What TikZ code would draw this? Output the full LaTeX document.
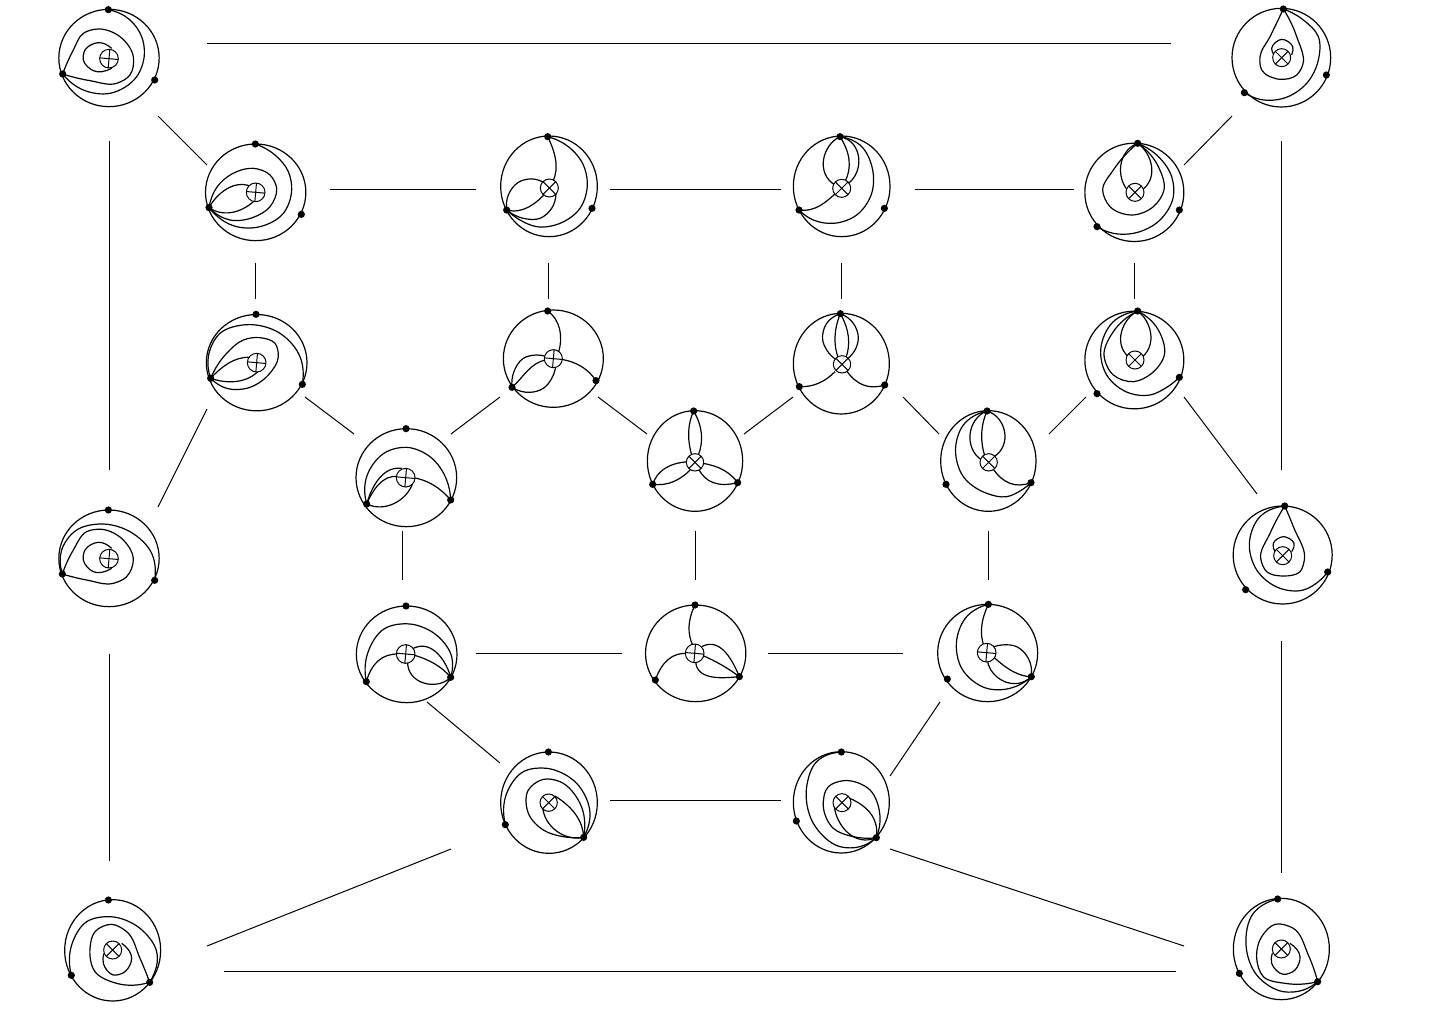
\documentclass[tikz,border=0pt]{standalone}
\usetikzlibrary{shapes.geometric}
\tikzset{
  ringn/.style={ellipse,draw=black,line width=.6pt,inner sep=0pt,outer sep=0pt},
  dotn/.style={circle,fill=black,inner sep=0pt,outer sep=0pt,minimum size=3.6pt},
  xring/.style={circle,draw=black,fill=white,line width=.5pt,inner sep=0pt,outer sep=0pt},
  xbar/.style={line width=.5pt},
  cvn/.style={line width=.6pt,line join=round},
  linkn/.style={line width=.5pt,draw=black},
  zoomed/.style={x=.166667pt,y=-.166667pt}
}
\newcommand\Ring[5]{\node[ringn,minimum width=#4/6*1pt,minimum height=#5/6*1pt] (#1) at (#2,#3) {};}
\newcommand\Dots[7]{\node[dotn] (#1a) at (#2,#3) {};\node[dotn] (#1b) at (#4,#5) {};\node[dotn] (#1c) at (#6,#7) {};}
\newcommand\Xc[5]{\node[xring,minimum size=#4/3*1pt] (#1x) at (#2,#3) {};
  \pgfmathsetmacro\aA{#5}\pgfmathsetmacro\aB{#5+180}\pgfmathsetmacro\aC{#5+90}\pgfmathsetmacro\aD{#5+270}
  \draw[xbar] (#1x.\aA) -- (#1x.\aB);\draw[xbar] (#1x.\aC) -- (#1x.\aD);}
% many points: a spline through them, tangents scaled by chord length
\newcount\cvN \newcount\cvI
\def\cvx#1{\csname cvx\number\numexpr#1\relax\endcsname}
\def\cvy#1{\csname cvy\number\numexpr#1\relax\endcsname}
\def\cvd#1{\csname cvd\number\numexpr#1\relax\endcsname}
\def\ctx#1{\csname ctx\number\numexpr#1\relax\endcsname}
\def\cty#1{\csname cty\number\numexpr#1\relax\endcsname}
\def\cvLoad(#1,#2){\advance\cvN by 1
  \expandafter\def\csname cvx\number\cvN\endcsname{#1}%
  \expandafter\def\csname cvy\number\cvN\endcsname{#2}%
  \futurelet\cvNext\cvTest}
\def\cvTest{\ifx\cvNext(\expandafter\cvLoad\else\expandafter\cvGobble\fi}
\def\cvGobble\relax{}
\def\cvBuild{%
  \cvI=1
  \loop\ifnum\cvI<\cvN
    \expandafter\pgfmathsetmacro\csname cvd\number\cvI\endcsname{veclen(\cvx{\cvI+1}-\cvx{\cvI},\cvy{\cvI+1}-\cvy{\cvI})}%
    \advance\cvI by 1
  \repeat
  \cvI=2
  \loop\ifnum\cvI<\cvN
    \pgfmathsetmacro\cvA{\cvd{\cvI-1}}\pgfmathsetmacro\cvB{\cvd{\cvI}}%
    \expandafter\pgfmathsetmacro\csname ctx\number\cvI\endcsname{(\cvB/(\cvA+\cvB))*(\cvx{\cvI}-\cvx{\cvI-1})/\cvA+(\cvA/(\cvA+\cvB))*(\cvx{\cvI+1}-\cvx{\cvI})/\cvB}%
    \expandafter\pgfmathsetmacro\csname cty\number\cvI\endcsname{(\cvB/(\cvA+\cvB))*(\cvy{\cvI}-\cvy{\cvI-1})/\cvA+(\cvA/(\cvA+\cvB))*(\cvy{\cvI+1}-\cvy{\cvI})/\cvB}%
    \advance\cvI by 1
  \repeat
  \expandafter\pgfmathsetmacro\csname ctx1\endcsname{2*(\cvx{2}-\cvx{1})/\cvd{1}-\ctx{2}}%
  \expandafter\pgfmathsetmacro\csname cty1\endcsname{2*(\cvy{2}-\cvy{1})/\cvd{1}-\cty{2}}%
  \expandafter\pgfmathsetmacro\csname ctx\number\cvN\endcsname{2*(\cvx{\cvN}-\cvx{\cvN-1})/\cvd{\cvN-1}-\ctx{\cvN-1}}%
  \expandafter\pgfmathsetmacro\csname cty\number\cvN\endcsname{2*(\cvy{\cvN}-\cvy{\cvN-1})/\cvd{\cvN-1}-\cty{\cvN-1}}%
  \edef\cvPath{(\cvx{1},\cvy{1})}%
  \cvI=1
  \loop\ifnum\cvI<\cvN
    \pgfmathsetmacro\cvAx{\cvx{\cvI}+\ctx{\cvI}*\cvd{\cvI}/3}%
    \pgfmathsetmacro\cvAy{\cvy{\cvI}+\cty{\cvI}*\cvd{\cvI}/3}%
    \pgfmathsetmacro\cvBx{\cvx{\cvI+1}-\ctx{\cvI+1}*\cvd{\cvI}/3}%
    \pgfmathsetmacro\cvBy{\cvy{\cvI+1}-\cty{\cvI+1}*\cvd{\cvI}/3}%
    \edef\cvPath{\cvPath .. controls (\cvAx,\cvAy) and (\cvBx,\cvBy) .. (\cvx{\cvI+1},\cvy{\cvI+1})}%
    \advance\cvI by 1
  \repeat
  \edef\cvDo{\noexpand\draw[cvn] \cvPath;}\cvDo}
\newcommand\Cv[1]{\cvN=0 \cvLoad#1\relax\cvBuild}
% three points: a parabola through them
\def\Qv(#1,#2)(#3,#4)(#5,#6){%
  \pgfmathsetmacro\qx{2*(#3)-((#1)+(#5))/2}\pgfmathsetmacro\qy{2*(#4)-((#2)+(#6))/2}%
  \pgfmathsetmacro\cax{(#1)/3+2*\qx/3}\pgfmathsetmacro\cay{(#2)/3+2*\qy/3}%
  \pgfmathsetmacro\cbx{(#5)/3+2*\qx/3}\pgfmathsetmacro\cby{(#6)/3+2*\qy/3}%
  \draw[cvn] (#1,#2) .. controls (\cax,\cay) and (\cbx,\cby) .. (#5,#6);}
% four points: one cubic through them
\def\Kv(#1,#2)(#3,#4)(#5,#6)(#7,#8){%
  \pgfmathsetmacro\da{veclen((#3)-(#1),(#4)-(#2))}%
  \pgfmathsetmacro\db{veclen((#5)-(#3),(#6)-(#4))}%
  \pgfmathsetmacro\dc{veclen((#7)-(#5),(#8)-(#6))}%
  \pgfmathsetmacro\tA{\da/(\da+\db+\dc)}\pgfmathsetmacro\tB{(\da+\db)/(\da+\db+\dc)}%
  \pgfmathsetmacro\mA{1-\tA}\pgfmathsetmacro\mB{1-\tB}%
  \pgfmathsetmacro\Aaa{3*\tA*\mA*\mA}\pgfmathsetmacro\Aab{3*\tA*\tA*\mA}%
  \pgfmathsetmacro\Aba{3*\tB*\mB*\mB}\pgfmathsetmacro\Abb{3*\tB*\tB*\mB}%
  \pgfmathsetmacro\kdet{\Aaa*\Abb-\Aab*\Aba}%
  \pgfmathsetmacro\rax{(#3)-(#1)*\mA*\mA*\mA-(#7)*\tA*\tA*\tA}%
  \pgfmathsetmacro\ray{(#4)-(#2)*\mA*\mA*\mA-(#8)*\tA*\tA*\tA}%
  \pgfmathsetmacro\rbx{(#5)-(#1)*\mB*\mB*\mB-(#7)*\tB*\tB*\tB}%
  \pgfmathsetmacro\rby{(#6)-(#2)*\mB*\mB*\mB-(#8)*\tB*\tB*\tB}%
  \pgfmathsetmacro\cax{(\Abb*\rax-\Aab*\rbx)/\kdet}\pgfmathsetmacro\cay{(\Abb*\ray-\Aab*\rby)/\kdet}%
  \pgfmathsetmacro\cbx{(\Aaa*\rbx-\Aba*\rax)/\kdet}\pgfmathsetmacro\cby{(\Aaa*\rby-\Aba*\ray)/\kdet}%
  \draw[cvn] (#1,#2) .. controls (\cax,\cay) and (\cbx,\cby) .. (#7,#8);}
\newcommand\Lk[6]{\coordinate (#1-#4) at (#2,#3);\coordinate (#4-#1) at (#5,#6);\draw[linkn] (#1-#4) -- (#4-#1);}
\begin{document}
\begin{tikzpicture}[x=.5pt,y=-.5pt]
\fill[white] (0,0) rectangle (1434,1032);
\path[use as bounding box] (0,0) rectangle (1434,1032);

% top-left
\begin{scope}[shift={(40,0)},zoomed]
\Ring{tl}{207}{174}{301}{292}
\Cv{(205,29)(270,60)(305,110)(313,165)(290,230)(210,280)(130,270)(68,222)}
\Cv{(68,222)(100,150)(130,100)(175,87)(240,110)(280,170)(270,225)(230,250)(150,242)(68,222)}
\Cv{(215,145)(175,128)(135,150)(130,180)(160,212)(215,205)}
\Xc{tl}{207}{176}{28}{-5}
\Dots{tl}{205}{29}{68}{222}{344}{240}
\end{scope}
% row 1 col 1
\begin{scope}[shift={(40,0)},zoomed]
\Ring{pa}{647}{577}{301}{290}
\Cv{(646,432)(705,465)(745,515)(755,570)(730,640)(660,680)(590,680)(507,623)}
\Cv{(507,623)(540,550)(590,515)(640,505)(690,525)(710,565)(690,620)(640,652)(570,660)(507,623)}
\Kv(507,623)(555,570)(590,555)(630,558)
\Kv(507,623)(570,638)(620,620)(650,595)
\Xc{pa}{647}{577}{28}{-5}
\Dots{pa}{646}{432}{507}{623}{784}{643}
\end{scope}
% row 1 col 2, 3
\begin{scope}[shift={(480,120)},zoomed]
\Ring{pb}{207}{199}{290}{302}
\Cv{(203,50)(265,80)(310,135)(322,190)(300,265)(240,310)(170,320)(120,300)(80,270)}
\Kv(203,50)(225,110)(228,150)(218,185)
\Kv(80,270)(130,268)(170,245)(200,215)
\Cv{(80,270)(85,225)(115,187)(160,177)(195,190)}
\Cv{(80,270)(130,295)(180,295)(215,265)(228,220)}
\Xc{pb}{208}{204}{27}{45}
\Dots{pb}{203}{50}{80}{270}{336}{265}
\Ring{pc}{1085}{199}{290}{302}
\Cv{(1080,50)(1140,75)(1178,150)(1175,220)(1130,285)(1060,310)(1000,300)(957,270)}
\Kv(1080,50)(1040,90)(1030,140)(1065,195)
\Qv(1080,50)(1107,120)(1095,185)
\Kv(1080,50)(1130,90)(1135,140)(1105,190)
\Kv(957,270)(1010,262)(1050,235)(1072,215)
\Xc{pc}{1085}{205}{27}{45}
\Dots{pc}{1080}{50}{957}{270}{1213}{265}
\end{scope}
% top-right and row 1 col 4
\begin{scope}[shift={(1070,0)},zoomed]
\Ring{tr}{634}{173}{296}{296}
\Cv{(640,27)(700,60)(745,110)(745,180)(710,250)(640,295)(570,298)(523,278)}
\Cv{(640,27)(600,110)(570,170)(575,210)(630,238)(680,225)(698,195)(680,110)(640,27)}
\Cv{(612,165)(605,145)(635,118)(668,140)(665,165)}
\Xc{tr}{635}{173}{27}{45}
\Dots{tr}{640}{27}{523}{278}{769}{225}
\Ring{pd}{193}{577}{297}{295}
\Cv{(203,430)(260,465)(305,530)(310,590)(270,660)(190,700)(130,700)(81,680)}
\Cv{(203,430)(130,510)(98,570)(120,620)(185,645)(250,620)(282,570)(265,500)(203,430)}
\Kv(203,430)(160,470)(152,520)(172,570)
\Kv(203,430)(240,480)(245,520)(220,567)
\Xc{pd}{195}{577}{27}{45}
\Dots{pd}{203}{430}{81}{680}{328}{630}
\end{scope}
% row 2 col 1, 2, row 3 col 1
\begin{scope}[shift={(190,300)},zoomed]
\Ring{qa}{200}{188}{302}{289}
\Cv{(62,235)(55,170)(90,100)(170,74)(270,100)(330,170)(337,253)}
\Cv{(62,235)(110,160)(160,120)(210,113)(255,130)(265,170)(235,225)(170,265)(110,265)(62,235)}
\Kv(62,235)(100,200)(140,178)(180,172)
\Kv(62,235)(110,245)(160,240)(210,208)
\Xc{qa}{200}{188}{28}{-5}
\Dots{qa}{198}{43}{62}{235}{337}{253}
\Ring{qb}{1090}{176}{300}{292}
\Kv(1073,33)(1105,75)(1112,115)(1106,155)
\Qv(1218,242)(1175,200)(1115,178)
\Cv{(966,262)(970,220)(1000,175)(1040,165)(1070,170)}
\Kv(966,262)(1010,215)(1040,190)(1070,180)
\Cv{(966,262)(1020,277)(1060,265)(1090,225)(1098,190)}
\Xc{qb}{1090}{176}{27}{-5}
\Dots{qb}{1073}{33}{966}{262}{1218}{242}
\Ring{ra}{649}{533}{302}{294}
\Cv{(530,612)(530,530)(590,455)(650,442)(720,470)(770,540)(782,600)}
\Kv(530,612)(560,545)(595,512)(635,505)
\Kv(530,612)(560,560)(590,535)(625,530)
\Qv(782,600)(730,555)(670,533)
\Kv(530,612)(580,620)(630,600)(668,550)
\Xc{ra}{647}{533}{28}{-5}
\Dots{ra}{648}{386}{530}{612}{782}{600}
\end{scope}
% row 3 col 2, row 2 col 3, row 3 col 3
\begin{scope}[shift={(630,300)},zoomed]
\Ring{rb}{195}{483}{286}{302}
\Qv(191,333)(176,395)(185,465)
\Qv(191,333)(214,400)(205,465)
\Qv(68,553)(105,505)(175,485)
\Qv(68,553)(130,545)(185,505)
\Qv(323,548)(280,510)(218,490)
\Qv(323,548)(250,548)(205,505)
\Xc{rb}{195}{487}{26}{45}
\Dots{rb}{191}{333}{68}{553}{323}{548}
\Ring{qc}{634}{191}{288}{302}
\Cv{(631,41)(590,70)(578,120)(590,150)(620,180)}
\Qv(631,41)(615,110)(625,175)
\Qv(631,41)(655,110)(647,175)
\Cv{(631,41)(670,70)(685,115)(675,150)(650,178)}
\Qv(508,260)(565,250)(615,215)
\Qv(764,255)(700,255)(648,210)
\Xc{qc}{636}{193}{26}{45}
\Dots{qc}{631}{41}{508}{260}{764}{255}
\Ring{rc}{1075}{483}{286}{302}
\Cv{(1071,333)(1000,375)(977,440)(1000,530)(1070,580)(1130,590)(1175,570)(1203,548)}
\Kv(1071,333)(1030,370)(1020,420)(1055,480)
\Qv(1071,333)(1055,400)(1065,470)
\Kv(1071,333)(1115,370)(1125,410)(1092,470)
\Qv(1203,548)(1140,550)(1088,505)
\Xc{rc}{1076}{487}{26}{45}
\Dots{rc}{1071}{333}{948}{553}{1203}{548}
\end{scope}
% row 2 col 4, mid right
\begin{scope}[shift={(1070,300)},zoomed]
\Ring{qd}{193}{180}{297}{293}
\Cv{(203,33)(130,65)(92,150)(110,225)(180,280)(240,285)(290,262)(328,232)}
\Cv{(203,33)(130,95)(102,165)(130,225)(190,245)(245,220)(283,165)(265,90)(203,33)}
\Kv(203,33)(160,80)(152,125)(175,170)
\Kv(203,33)(240,90)(242,125)(218,170)
\Xc{qd}{195}{180}{27}{45}
\Dots{qd}{203}{33}{81}{281}{328}{232}
\Ring{mr}{638}{765}{297}{294}
\Cv{(644,618)(570,650)(538,730)(560,810)(630,865)(700,870)(745,845)(773,816)}
\Cv{(644,618)(600,700)(572,775)(590,815)(640,828)(690,815)(703,780)(670,680)(644,618)}
\Cv{(615,755)(610,730)(640,710)(672,730)(665,755)}
\Xc{mr}{638}{767}{27}{45}
\Dots{mr}{644}{618}{527}{869}{773}{816}
\end{scope}
% mid left
\begin{scope}[shift={(40,490)},zoomed]
\Ring{ml}{207}{205}{301}{290}
\Cv{(67,252)(65,180)(110,120)(180,102)(270,125)(335,190)(344,271)}
\Cv{(67,252)(100,180)(140,125)(185,118)(250,150)(280,205)(260,260)(220,280)(140,270)(67,252)}
\Cv{(215,175)(175,157)(135,180)(130,210)(160,245)(215,235)}
\Xc{ml}{207}{206}{28}{-5}
\Dots{ml}{205}{60}{67}{252}{344}{271}
\end{scope}
% row 4 col 1, 2
\begin{scope}[shift={(345,590)},zoomed]
\Ring{sa}{185}{193}{302}{290}
\Cv{(64,275)(65,200)(120,115)(195,102)(280,140)(320,200)(317,262)}
\Qv(64,275)(100,212)(160,192)
\Qv(317,262)(270,222)(205,195)
\Kv(317,262)(290,205)(250,172)(205,175)
\Kv(317,262)(260,283)(210,265)(188,215)
\Xc{sa}{182}{192}{28}{-5}
\Dots{sa}{183}{48}{64}{275}{317}{262}
\Ring{sb}{1052}{190}{301}{290}
\Qv(1050,45)(1032,110)(1045,170)
\Qv(931,270)(970,208)(1028,190)
\Kv(1183,260)(1155,205)(1110,165)(1070,170)
\Qv(1183,260)(1130,225)(1070,195)
\Kv(1183,260)(1110,262)(1065,245)(1052,210)
\Xc{sb}{1049}{190}{28}{-5}
\Dots{sb}{1050}{45}{931}{270}{1183}{260}
\end{scope}
% row 4 col 3, row 5 col 2
\begin{scope}[shift={(780,590)},zoomed]
\Ring{sc}{623}{189}{300}{292}
\Cv{(625,43)(560,80)(530,150)(545,235)(620,295)(690,295)(754,260)}
\Qv(625,43)(605,110)(612,168)
\Cv{(754,260)(745,205)(710,170)(665,165)(630,175)}
\Qv(754,260)(700,245)(640,200)
\Kv(754,260)(680,277)(640,250)(622,210)
\Xc{sc}{620}{188}{28}{-5}
\Dots{sc}{625}{43}{502}{267}{754}{260}
\Ring{tb}{184}{637}{288}{304}
\Cv{(184,486)(110,515)(80,590)(100,700)(180,770)(240,770)(289,743)}
\Cv{(289,743)(300,680)(270,600)(190,572)(145,590)(130,650)(160,715)(220,740)(289,743)}
\Qv(289,743)(275,675)(210,625)
\Kv(289,743)(220,740)(175,690)(163,650)
\Xc{tb}{186}{638}{27}{45}
\Dots{tb}{184}{486}{49}{693}{289}{743}
\end{scope}
% row 5 col 1
\begin{scope}[shift={(490,740)},zoomed]
\Ring{ta}{177}{188}{290}{304}
\Cv{(46,254)(50,160)(100,95)(170,85)(260,130)(300,220)(281,292)}
\Cv{(281,292)(270,190)(210,125)(160,118)(115,150)(115,220)(160,270)(220,290)(281,292)}
\Qv(281,292)(258,225)(195,168)
\Kv(281,292)(210,280)(170,240)(158,200)
\Xc{ta}{176}{188}{26}{45}
\Dots{ta}{175}{36}{46}{254}{281}{292}
\end{scope}
% bottom-left
\begin{scope}[shift={(50,885)},zoomed]
\Ring{bl}{188}{196}{288}{304}
\Cv{(64,271)(65,180)(110,110)(180,95)(270,130)(320,200)(299,292)}
\Cv{(299,292)(270,220)(230,140)(185,118)(135,140)(120,190)(135,260)(200,295)(299,292)}
\Cv{(215,175)(245,220)(225,260)(190,270)(160,235)(162,205)}
\Xc{bl}{188}{195}{27}{45}
\Dots{bl}{175}{45}{64}{271}{299}{292}
\end{scope}
% bottom-right
\begin{scope}[shift={(1220,885)},zoomed]
\Ring{br}{184}{192}{288}{304}
\Cv{(173,42)(100,85)(78,180)(110,270)(190,320)(250,315)(293,290)}
\Cv{(293,290)(265,210)(220,130)(165,118)(125,155)(110,220)(130,275)(195,295)(293,290)}
\Cv{(210,175)(240,215)(225,255)(190,268)(155,235)(157,205)}
\Xc{br}{184}{192}{27}{45}
\Dots{br}{173}{42}{58}{265}{293}{290}
\end{scope}

% connectors
\Lk{tl}{207}{43.4}{tr}{1171}{43.4}
\Lk{tl}{158}{116}{pa}{207}{165}
\Lk{tl}{109}{141}{ml}{109}{470}
\Lk{pa}{330}{189.4}{pb}{476}{189.4}
\Lk{pb}{610}{189.4}{pc}{781}{189.4}
\Lk{pc}{915}{189.4}{pd}{1074}{189.4}
\Lk{tr}{1232}{116}{pd}{1184}{165}
\Lk{tr}{1281}{141}{mr}{1281}{470}
\Lk{pa}{255}{263}{qa}{255}{299}
\Lk{pb}{548}{263}{qb}{548}{299}
\Lk{pc}{841}{263}{qc}{841}{299}
\Lk{pd}{1134}{263}{qd}{1134}{299}
\Lk{qa}{207}{409}{ml}{158}{507}
\Lk{qa}{305}{397}{ra}{354}{434}
\Lk{qb}{500}{397}{ra}{451}{434}
\Lk{qb}{598}{397}{rb}{647}{434}
\Lk{qc}{793}{397}{rb}{744}{434}
\Lk{qc}{903}{397}{rc}{939}{434}
\Lk{qd}{1086}{397}{rc}{1049}{434}
\Lk{qd}{1184}{397}{mr}{1257}{494}
\Lk{ml}{109}{654}{bl}{109}{861}
\Lk{ra}{402}{531}{sa}{402}{580}
\Lk{rb}{695}{531}{sb}{695}{580}
\Lk{rc}{988}{531}{sc}{988}{580}
\Lk{mr}{1281}{641}{br}{1281}{873}
\Lk{sa}{476}{653.4}{sb}{622}{653.4}
\Lk{sb}{768}{653.4}{sc}{903}{653.4}
\Lk{sa}{427}{702}{ta}{500}{763}
\Lk{sc}{940}{702}{tb}{890}{776}
\Lk{ta}{610}{800.4}{tb}{781}{800.4}
\Lk{ta}{451}{849}{bl}{207}{946}
\Lk{tb}{890}{849}{br}{1184}{946}
\Lk{bl}{224}{971.4}{br}{1176}{971.4}
\end{tikzpicture}
\end{document}
